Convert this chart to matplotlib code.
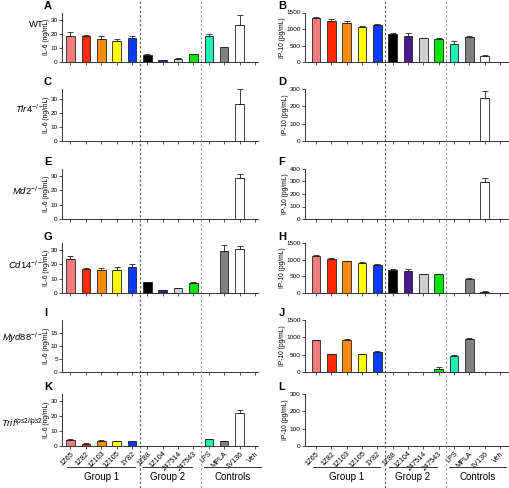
import numpy as np
import matplotlib
matplotlib.use("Agg")
import matplotlib.pyplot as plt
from matplotlib.lines import Line2D
import matplotlib.transforms as mtransforms

# categories and colours
cats = ['1Z65', '1Z82', '1Z103', '1Z105', '1Y82', '1Z88', '1Z104', '247514', '247543',
        'LPS', 'MPLA', '1V136', 'Veh']
colors = ['#F47C7C', '#FF2A00', '#FF8C00', '#FFFF00', '#0A3CFF', '#000000', '#4A1A8C',
          '#D0D0D0', '#00E600', '#1EF0B4', '#808080', '#FFFFFF', '#FFFFFF']

# IL-6 (ng/mL), left column
il6_wt = [18.7, 18.5, 16.6, 15.0, 17.1, 4.9, 1.2, 2.3, 5.6, 18.7, 10.3, 26.5, 0]
il6_wt_err = [2.6, 0.3, 2.1, 1.4, 1.6, 0.5, 0.2, 0.3, 0.4, 1.4, 0.4, 7.0, 0]
il6_tlr4 = [0, 0, 0, 0, 0, 0, 0, 0, 0, 0, 0, 26.0, 0]
il6_tlr4_err = [0, 0, 0, 0, 0, 0, 0, 0, 0, 0, 0, 10.7, 0]
il6_md2 = [0, 0, 0, 0, 0, 0, 0, 0, 0, 0, 0, 28.8, 0]
il6_md2_err = [0, 0, 0, 0, 0, 0, 0, 0, 0, 0, 0, 2.4, 0]
il6_cd14 = [23.9, 16.9, 16.4, 16.4, 18.0, 7.5, 1.9, 3.3, 7.0, 0, 29.7, 30.9, 0]
il6_cd14_err = [2.3, 0.7, 1.2, 1.6, 2.4, 0.5, 0.2, 0.2, 0.5, 0, 3.6, 1.9, 0]
il6_myd88 = [0] * 13
il6_myd88_err = [0] * 13
il6_trif = [4.2, 1.5, 3.7, 3.1, 3.3, 0, 0, 0, 0, 4.4, 3.5, 22.3, 0]
il6_trif_err = [0.2, 0.2, 0.3, 0.3, 0.2, 0, 0, 0, 0, 0.3, 0.2, 1.6, 0]

# IP-10 (pg/mL), right column
ip10_wt = [1329, 1249, 1168, 1057, 1108, 856, 795, 715, 695, 534, 755, 171, 0]
ip10_wt_err = [30, 40, 70, 30, 40, 20, 70, 15, 30, 90, 40, 30, 0]
ip10_tlr4 = [0, 0, 0, 0, 0, 0, 0, 0, 0, 0, 0, 248, 0]
ip10_tlr4_err = [0, 0, 0, 0, 0, 0, 0, 0, 0, 0, 0, 42, 0]
ip10_md2 = [0, 0, 0, 0, 0, 0, 0, 0, 0, 0, 0, 295, 0]
ip10_md2_err = [0, 0, 0, 0, 0, 0, 0, 0, 0, 0, 0, 29, 0]
ip10_cd14 = [1100, 1030, 950, 900, 840, 700, 670, 560, 560, 0, 420, 30, 0]
ip10_cd14_err = [50, 30, 20, 20, 20, 30, 50, 15, 10, 0, 30, 45, 0]
ip10_myd88 = [910, 510, 925, 510, 575, 0, 0, 0, 100, 450, 950, 0, 0]
ip10_myd88_err = [25, 20, 20, 15, 20, 0, 0, 0, 30, 30, 20, 0, 0]
ip10_trif = [0] * 13
ip10_trif_err = [0] * 13

rows = ['WT', 'Tlr4', 'Md2', 'Cd14', 'Myd88', 'Trif']
row_sup = ['', '-/-', '-/-', '-/-', '-/-', 'lps2/lps2']
left_data = [(il6_wt, il6_wt_err), (il6_tlr4, il6_tlr4_err), (il6_md2, il6_md2_err),
             (il6_cd14, il6_cd14_err), (il6_myd88, il6_myd88_err), (il6_trif, il6_trif_err)]
right_data = [(ip10_wt, ip10_wt_err), (ip10_tlr4, ip10_tlr4_err), (ip10_md2, ip10_md2_err),
              (ip10_cd14, ip10_cd14_err), (ip10_myd88, ip10_myd88_err), (ip10_trif, ip10_trif_err)]
left_ylim = [35, 37, 35, 35, 20, 35]
left_ticks = [[0, 10, 20, 30]] * 4 + [[0, 5, 10, 15]] + [[0, 10, 20, 30]]
right_ylim = [1500, 300, 400, 1500, 1500, 300]
right_ticks = [[0, 500, 1000, 1500], [0, 100, 200, 300], [0, 100, 200, 300, 400],
               [0, 500, 1000, 1500], [0, 500, 1000, 1500], [0, 100, 200, 300]]
left_letters = ['A', 'C', 'E', 'G', 'I', 'K']
right_letters = ['B', 'D', 'F', 'H', 'J', 'L']
groups = ['Group 1', 'Group 2', 'Controls']
group_spans = [(-0.2, 4.2), (4.75, 7.9), (8.7, 12.4)]
row_label_y = [0.75, 0.63, 0.57, 0.56, 0.66, 0.45]

W, H = 510, 488
fig = plt.figure(figsize=(W / 100, H / 100), dpi=100)
plt.rcParams['font.family'] = 'Liberation Sans'
plt.rcParams['mathtext.fontset'] = 'custom'
plt.rcParams['mathtext.it'] = 'Liberation Sans:italic'
plt.rcParams['mathtext.rm'] = 'Liberation Sans'

tops = [12.5, 89, 169, 243, 320, 394]
bots = [62, 141, 219, 293, 372, 446]
x = np.arange(len(cats))


def draw_panel(ax, vals, errs, ylim, ticks, ylabel, bottom):
    ax.bar(x, vals, width=0.56, color=colors, edgecolor='#222222', linewidth=0.6, zorder=2)
    vals = np.array(vals, dtype=float)
    errs = np.array(errs, dtype=float)
    m = errs > 0
    ax.errorbar(x[m], vals[m], yerr=[np.zeros(m.sum()), errs[m]], fmt='none',
                ecolor='#222222', elinewidth=0.6, capsize=2, capthick=0.6, zorder=3)
    ax.set_ylim(0, ylim)
    ax.set_yticks(ticks)
    ax.set_xticks(x)
    if bottom:
        ax.set_xticklabels(cats, rotation=45, ha='right', rotation_mode='anchor', fontsize=5.2)
    else:
        ax.set_xticklabels([])
    ax.tick_params(axis='both', length=2, width=0.6, color='#333333', pad=1)
    ax.tick_params(axis='y', labelsize=4.6)
    for s in ['top', 'right']:
        ax.spines[s].set_visible(False)
    for s in ['left', 'bottom']:
        ax.spines[s].set_linewidth(0.7)
        ax.spines[s].set_color('#333333')
    ax.set_ylabel(ylabel, fontsize=4.8, labelpad=0.5)


for i in range(6):
    h = (bots[i] - tops[i]) / H
    y0 = 1 - bots[i] / H
    axl = fig.add_axes([62 / W, y0, 196 / W, h])
    axl.set_xlim(-0.55, 12.2)
    draw_panel(axl, left_data[i][0], left_data[i][1], left_ylim[i], left_ticks[i],
               'IL-6 (ng/mL)', i == 5)
    axl.text(-0.092, 1.03, left_letters[i], transform=axl.transAxes, fontsize=8,
             fontweight='bold', ha='left', va='bottom')
    if row_sup[i]:
        lab = r'$\it{%s}^{%s}$' % (rows[i], row_sup[i])
    else:
        lab = rows[i]
    axl.text(-0.095, row_label_y[i], lab, transform=axl.transAxes, fontsize=6.8,
             ha='right', va='center')

    axr = fig.add_axes([305 / W, y0, 205 / W, h])
    axr.set_xlim(-0.72, 12.65)
    draw_panel(axr, right_data[i][0], right_data[i][1], right_ylim[i], right_ticks[i],
               'IP-10 (pg/mL)', i == 5)
    axr.text(-0.13, 1.03, right_letters[i], transform=axr.transAxes, fontsize=8,
             fontweight='bold', ha='left', va='bottom')

    if i == 5:
        for ax in (axl, axr):
            tr = mtransforms.blended_transform_factory(ax.transData, ax.transAxes)
            for g, (a, b) in zip(groups, group_spans):
                ax.add_line(Line2D([a, b], [-0.40, -0.40], transform=tr, color='#333333',
                                   linewidth=0.7, clip_on=False))
                ax.text((a + b) / 2, -0.50, g, transform=tr, fontsize=7, ha='center', va='top')
            # dashed separators over the full figure height
            trf = mtransforms.blended_transform_factory(ax.transData, fig.transFigure)
            fig.add_artist(Line2D([4.5, 4.5], [0, 1], transform=trf, color='#555555',
                                  linewidth=0.8, linestyle=(0, (2, 2))))
            fig.add_artist(Line2D([8.5, 8.5], [0, 1], transform=trf, color='#999999',
                                  linewidth=0.8, linestyle=(0, (2, 2))))

fig.savefig('out.png', dpi=100)
